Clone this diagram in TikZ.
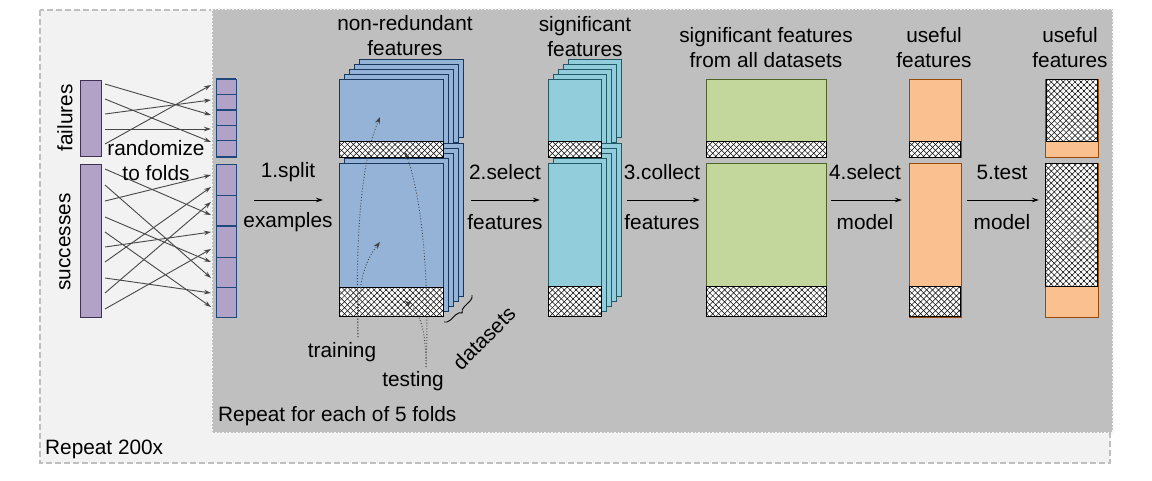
\documentclass[tikz,border=0pt]{standalone}
\usepackage{fontspec}
\setmainfont{Liberation Sans}
\usetikzlibrary{arrows.meta,patterns.meta,decorations.pathreplacing}
\definecolor{outerbg}{HTML}{F2F2F2}
\definecolor{innerbg}{HTML}{BFBFBF}
\definecolor{purpf}{HTML}{B3A2C7}
\definecolor{purpd}{HTML}{3F3151}
\definecolor{foldb}{HTML}{1F497D}
\definecolor{bluf}{HTML}{95B3D7}
\definecolor{blud}{HTML}{17375E}
\definecolor{tealf}{HTML}{92CDDC}
\definecolor{teald}{HTML}{215967}
\definecolor{grnf}{HTML}{C3D69B}
\definecolor{grnd}{HTML}{4F6228}
\definecolor{orgf}{HTML}{FAC090}
\definecolor{orgd}{HTML}{984807}
\tikzset{
  lbl/.style={font=\fontsize{20.8}{25}\selectfont, inner sep=0pt, align=center},
  hatchbox/.style={preaction={fill=white},
    preaction={pattern={Lines[angle=45,distance=4.2pt,line width=0.5pt]}},
    preaction={pattern={Lines[angle=-45,distance=4.2pt,line width=0.5pt]}},
    draw=black, line width=1pt},
  purpbox/.style={fill=purpf, draw=purpd, line width=1pt},
  foldbox/.style={fill=purpf, draw=foldb, line width=1pt},
  blubox/.style={fill=bluf, draw=blud, line width=1pt},
  tealbox/.style={fill=tealf, draw=teald, line width=1pt},
  grnbox/.style={fill=grnf, draw=grnd, line width=1pt},
  orgbox/.style={fill=orgf, draw=orgd, line width=1pt},
  mix/.style={draw=black!72, line width=0.9pt, -{Stealth[length=7pt,width=4.5pt]}},
  flow/.style={draw=black, line width=1pt, -{Stealth[length=7pt,width=4.5pt]}},
  pointer/.style={draw=black!75, line width=0.9pt, dotted, -{Stealth[length=7pt,width=5pt]}},
}
\begin{document}
\begin{tikzpicture}[x=1pt,y=-1pt]
\useasboundingbox (0,0) rectangle (1152,480);
% outer box
\draw[fill=outerbg, draw=innerbg, line width=2pt, dash pattern=on 6pt off 3pt] (40,10) rectangle (1110,463);
% inner box
\draw[fill=innerbg, draw=white!85!innerbg, line width=1.5pt, dotted] (212,9) rectangle (1113,433);
\node[lbl, anchor=base west] (rep5) at (218,421) {Repeat for each of 5 folds};
\node[lbl, anchor=base west] (rep200) at (45,454) {Repeat 200x};

% examples bars
\draw[purpbox] (80,80) rectangle (101,156);
\draw[purpbox] (80,164) rectangle (101,317);
\node[lbl, rotate=90] (fail) at (65,118) {failures};
\node[lbl, rotate=90] (succ) at (65,242) {successes};

% fold column
\draw[foldbox] (216,79) rectangle (236,157);
\foreach \yy in {94,125,140} \draw[foldb, line width=1pt] (216,\yy) -- (236,\yy);
\draw[foldb, line width=2pt] (216,110) -- (236,110);
\draw[foldb, line width=2pt] (216,79) -- (236,79);
\draw[foldb, line width=2pt] (216,157) -- (236,157);
\draw[foldbox] (216,164) rectangle (236,317);
\foreach \yy in {195,257,287} \draw[foldb, line width=1pt] (216,\yy) -- (236,\yy);
\draw[foldb, line width=2pt] (216,226) -- (236,226);

% random mixing arrows
\foreach \a/\b in {84/115, 99/142, 114/100, 129/129, 144/85,
  169/215, 185/278, 201/175, 217/262, 232/307, 247/232, 262/187, 278/293, 293/202, 309/249}{
  \coordinate (s\a) at (105,\a);
  \coordinate (t\a) at (211,\b);
  \draw[mix] (s\a) -- (t\a);
}
\node[lbl] (rand) at (156,161) {randomize\\to folds};

% step 1
\coordinate (a1s) at (254,200); \coordinate (a1e) at (323,200);
\draw[flow] (a1s) -- (a1e);
\node[lbl] (l1a) at (288,172) {1.split};
\node[lbl] (l1b) at (288,222) {examples};

% stack 1 (non-redundant features)
\foreach \k in {4,3,2,1}
  \draw[blubox] ({339+5*\k},{79-5*\k}) rectangle ({443+5*\k},{157-5*\k});
\foreach \k in {4,3,2,1}
  \draw[blubox] ({339+5*\k},{163-5*\k}) rectangle ({443+5*\k},{316-5*\k});
\draw[blubox] (339,79) rectangle (443,157);
\draw[hatchbox] (339,141) rectangle (443,157);
\draw[blubox] (339,163) rectangle (443,316);
\draw[hatchbox] (339,287) rectangle (443,316);
\node[lbl] (h1) at (405,36) {non-redundant\\features};

% training / testing pointers
\node[lbl] (train) at (342,352) {training};
\node[lbl] (test) at (413,381) {testing};
\coordinate (tr0) at (358,337);
\coordinate (tr1) at (380,117);
\coordinate (tr2) at (380,242);
\coordinate (te0) at (426,367);
\coordinate (te1) at (405,152);
\coordinate (te2) at (405,301);
\draw[pointer] (tr0) .. controls (355,230) and (362,160) .. (tr1);
\draw[pointer] (tr0) .. controls (357,285) and (364,262) .. (tr2);
\draw[pointer] (te0) .. controls (430,270) and (420,190) .. (te1);
\draw[pointer] (te0) .. controls (426,330) and (420,312) .. (te2);

% datasets brace
\coordinate (br1) at (472,295); \coordinate (br2) at (444,322);
\draw[decorate, decoration={brace, amplitude=6pt}, line width=0.9pt] (br1) -- (br2);
\node[lbl, rotate=45] (dsets) at (484,338) {datasets};

% step 2
\coordinate (a2s) at (471,200); \coordinate (a2e) at (540,200);
\draw[flow] (a2s) -- (a2e);
\node[lbl] (l2a) at (505,172) {2.select};
\node[lbl] (l2b) at (505,222) {features};

% stack 2 (significant features)
\foreach \k in {4,3,2,1}
  \draw[tealbox] ({548+5*\k},{79-5*\k}) rectangle ({601+5*\k},{157-5*\k});
\foreach \k in {4,3,2,1}
  \draw[tealbox] ({548+5*\k},{163-5*\k}) rectangle ({601+5*\k},{316-5*\k});
\draw[tealbox] (548,79) rectangle (601,157);
\draw[hatchbox] (548,141) rectangle (601,157);
\draw[tealbox] (548,163) rectangle (601,316);
\draw[hatchbox] (548,286) rectangle (601,316);
\node[lbl] (h2) at (585,37) {significant\\features};

% step 3
\coordinate (a3s) at (627,200); \coordinate (a3e) at (700,200);
\draw[flow] (a3s) -- (a3e);
\node[lbl] (l3a) at (662,172) {3.collect};
\node[lbl] (l3b) at (662,222) {features};

% green collection
\draw[grnbox] (706,79) rectangle (826,157);
\draw[hatchbox] (706,141) rectangle (826,157);
\draw[grnbox] (706,163) rectangle (826,316);
\draw[hatchbox] (706,286) rectangle (826,316);
\node[lbl] (h3) at (766,48) {significant features\\from all datasets};

% step 4
\coordinate (a4s) at (831,200); \coordinate (a4e) at (902,200);
\draw[flow] (a4s) -- (a4e);
\node[lbl] (l4a) at (865,172) {4.select};
\node[lbl] (l4b) at (865,222) {model};

% orange useful features
\draw[orgbox] (909,79) rectangle (961,157);
\draw[hatchbox] (909,141) rectangle (960,157);
\draw[orgbox] (909,163) rectangle (961,317);
\draw[hatchbox] (909,286) rectangle (960,316);
\node[lbl] (h4) at (934,48) {useful\\features};

% step 5
\coordinate (a5s) at (967,200); \coordinate (a5e) at (1039,200);
\draw[flow] (a5s) -- (a5e);
\node[lbl] (l5a) at (1002,172) {5.test};
\node[lbl] (l5b) at (1002,222) {model};

% tested useful features
\draw[orgbox] (1045,79) rectangle (1098,157);
\draw[hatchbox] (1046,79) rectangle (1097,141);
\draw[orgbox] (1045,163) rectangle (1098,317);
\draw[hatchbox] (1045,163) rectangle (1097,286);
\node[lbl] (h5) at (1070,48) {useful\\features};
\end{tikzpicture}
\end{document}
